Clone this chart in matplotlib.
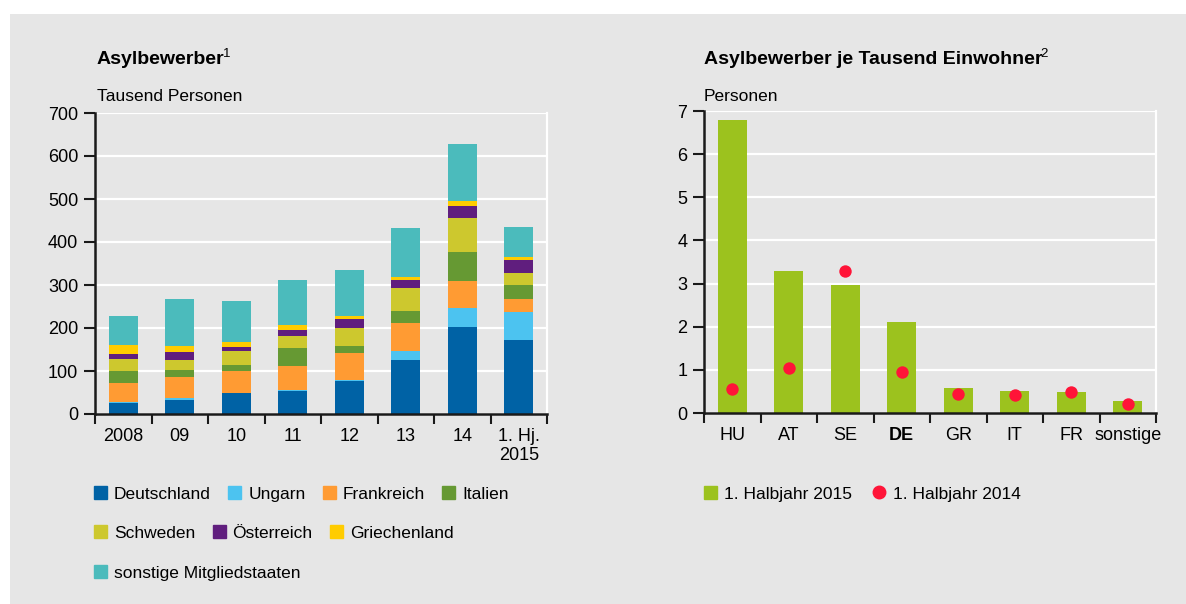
import numpy as np
import matplotlib
matplotlib.use('Agg')
import matplotlib.pyplot as plt
from matplotlib.patches import Patch, Rectangle
from matplotlib.lines import Line2D

plt.rcParams['font.family'] = ['Liberation Sans', 'DejaVu Sans']

# linke Grafik: Asylbewerber in Tausend Personen
jahre = ['2008', '09', '10', '11', '12', '13', '14', '1. Hj.\n2015']
deutschland = [26, 33, 48, 53, 76, 125, 202, 171]
ungarn = [2, 4, 2, 2, 2, 22, 44, 67]
frankreich = [43, 49, 51, 56, 63, 64, 63, 30]
italien = [30, 16, 12, 42, 16, 28, 67, 33]
schweden = [26, 23, 33, 28, 44, 53, 79, 28]
oesterreich = [12, 19, 9, 14, 19, 19, 28, 28]
griechenland = [21, 14, 12, 12, 9, 8, 12, 7]
sonstige = [67, 109, 95, 105, 107, 113, 134, 70]
namen = ['Deutschland', 'Ungarn', 'Frankreich', 'Italien',
         'Schweden', 'Österreich', 'Griechenland', 'sonstige Mitgliedstaaten']
farben = ['#0062a5', '#4cc3f0', '#ff9b33', '#669933',
          '#cdc82e', '#601e7e', '#ffcc00', '#4bbbbc']

# rechte Grafik: Asylbewerber je Tausend Einwohner
laender = ['HU', 'AT', 'SE', 'DE', 'GR', 'IT', 'FR', 'sonstige']
hj_2015 = [6.8, 3.3, 2.97, 2.11, 0.57, 0.50, 0.48, 0.27]
hj_2014 = [0.55, 1.05, 3.28, 0.96, 0.45, 0.41, 0.49, 0.22]

BG = '#e6e6e6'
SPINE = '#1a1a1a'
GRUEN = '#9cc21e'
ROT = '#ff1438'
W, H = 1186, 604


def style(ax, labels, ymax, step):
    n = len(labels)
    ax.set_facecolor(BG)
    ax.set_xlim(-0.5, n - 0.5)
    ax.set_ylim(0, ymax)
    ax.set_yticks(np.arange(0, ymax + step / 2, step))
    ax.grid(axis='y', color='white', lw=1.6)
    ax.set_axisbelow(True)
    ax.spines['top'].set_visible(False)
    ax.spines['right'].set_color('white')
    ax.spines['right'].set_linewidth(1.6)
    for s in ['left', 'bottom']:
        ax.spines[s].set_color(SPINE)
        ax.spines[s].set_linewidth(1.8)
    ax.set_xticks(range(n))
    ax.set_xticklabels(labels, fontsize=13, linespacing=1.15)
    ax.set_xticks(np.arange(-0.5, n), minor=True)
    ax.tick_params(axis='x', which='major', length=0, pad=10)
    ax.tick_params(axis='x', which='minor', length=7, width=1.5, color=SPINE)
    ax.tick_params(axis='y', length=8, width=1.5, color=SPINE, pad=4, labelsize=13)


def titel(fig, x, y, text, hoch):
    t = fig.text(x / W, 1 - y / H, text, fontsize=14, fontweight='bold', va='baseline')
    bb = t.get_window_extent(renderer=fig.canvas.get_renderer())
    fig.text((bb.x1 - 2) / W, 1 - (y - 7) / H, hoch, fontsize=9.5, va='baseline')


fig = plt.figure(figsize=(W / 100, H / 100), dpi=100)
fig.patch.set_facecolor('white')
fig.patches.append(Rectangle((10 / W, 0), 1, 1 - 14 / H, transform=fig.transFigure,
                             facecolor=BG, edgecolor='none', zorder=-10))

ax1 = fig.add_axes([95 / W, 1 - 414 / H, 452 / W, 301 / H])
ax2 = fig.add_axes([704 / W, 1 - 413 / H, 452 / W, 302 / H])

# gestapelte Säulen
x = np.arange(len(jahre))
serien = [deutschland, ungarn, frankreich, italien, schweden, oesterreich, griechenland, sonstige]
unten = np.zeros(len(jahre))
for werte, farbe in zip(serien, farben):
    ax1.bar(x, werte, 0.52, bottom=unten, color=farbe, zorder=2)
    unten += np.array(werte)
style(ax1, jahre, 700, 100)

# Säulen und Punkte rechts
x2 = np.arange(len(laender))
ax2.bar(x2, hj_2015, 0.52, color=GRUEN, zorder=2)
ax2.scatter(x2, hj_2014, s=80, color=ROT, zorder=3, clip_on=False, linewidths=0)
style(ax2, laender, 7, 1)
ax2.get_xticklabels()[3].set_fontweight('bold')

# Überschriften
titel(fig, 97, 64, 'Asylbewerber', '1')
fig.text(97 / W, 1 - 101 / H, 'Tausend Personen', fontsize=12.5, va='baseline')
titel(fig, 704, 64, 'Asylbewerber je Tausend Einwohner', '2')
fig.text(704 / W, 1 - 101 / H, 'Personen', fontsize=12.5, va='baseline')

# Legenden
leg_kw = dict(frameon=False, fontsize=12.5, handlelength=0.75, handleheight=0.75,
              handletextpad=0.4, columnspacing=1.0, borderpad=0, borderaxespad=0,
              loc='center left')
zeilen = [(0, 4, 494), (4, 7, 533), (7, 8, 573)]
for a, b, yy in zeilen:
    handles = [Patch(color=farben[i]) for i in range(a, b)]
    fig.legend(handles, namen[a:b], ncol=b - a, bbox_to_anchor=(94 / W, 1 - yy / H), **leg_kw)

handles2 = [Patch(color=GRUEN),
            Line2D([], [], marker='o', color=ROT, linestyle='none', markersize=9)]
fig.legend(handles2, ['1. Halbjahr 2015', '1. Halbjahr 2014'], ncol=2,
           bbox_to_anchor=(704 / W, 1 - 494 / H), **dict(leg_kw, columnspacing=1.2))

fig.savefig('out.png', dpi=100, facecolor=fig.get_facecolor())
